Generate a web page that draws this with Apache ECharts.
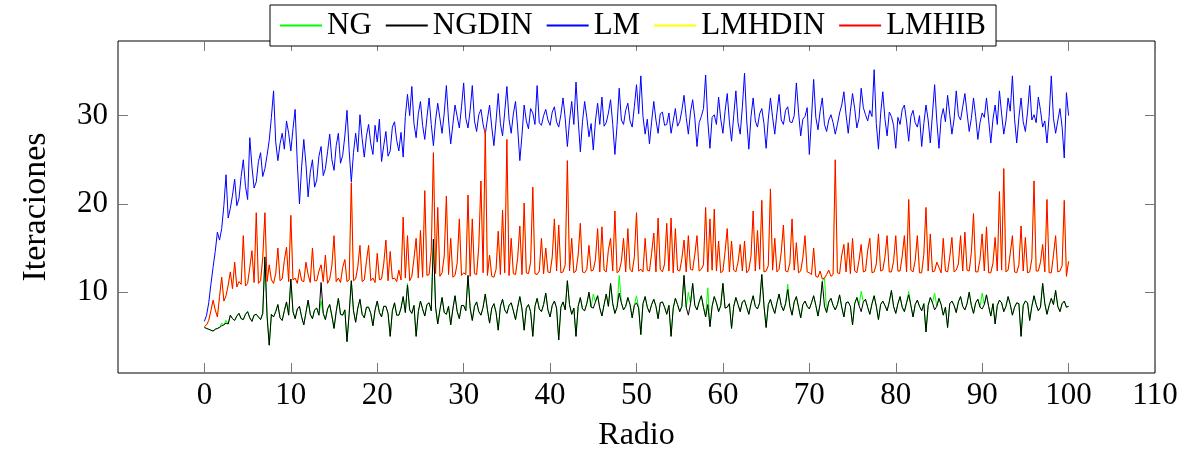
<!DOCTYPE html>
<html>
<head>
<meta charset="utf-8">
<script src="https://cdn.jsdelivr.net/npm/echarts@6/dist/echarts.min.js"></script>
<style>
  html, body { margin: 0; padding: 0; background: #fff; }
  #chart { width: 1185px; height: 457px; }
</style>
</head>
<body>
<div id="chart"></div>
<script>
// radio goes 0 .. 100 in steps of 0.25
const radio = [];
for (let i = 0; i <= 400; i++) radio.push(i / 4);

const xTicks = [0, 10, 20, 30, 40, 50, 60, 70, 80, 90, 100, 110];
const yTicks = [10, 20, 30];

// one row per 5 units of radio (20 values each)
const lm = [
  6.7, 7.4, 8.8, 10.9, 12.8, 14.6, 16.8, 15.9, 17.2, 19.8, 23.3, 18.4, 19.5, 21.0, 22.8, 19.8, 20.6, 23.1, 25.0, 22.0,
  20.5, 27.5, 24.2, 21.8, 22.5, 24.8, 25.8, 23.1, 24.0, 25.5, 27.2, 29.8, 32.8, 27.0, 24.9, 26.8, 28.0, 26.2, 29.4, 28.0,
  26.0, 28.5, 30.7, 24.6, 20.0, 24.2, 27.3, 24.5, 20.8, 23.6, 25.0, 21.9, 22.7, 25.4, 26.5, 23.2, 24.0, 25.9, 27.9, 25.0,
  23.8, 26.6, 28.0, 24.6, 25.5, 27.7, 30.6, 26.0, 22.5, 25.8, 28.0, 25.9, 30.1, 27.4, 25.3, 27.7, 29.0, 26.8, 25.6, 28.9,
  27.0, 29.6, 24.8, 26.6, 28.2, 25.4, 26.0, 28.7, 29.3, 27.2, 26.0, 28.1, 25.3, 29.9, 32.4, 30.0, 33.3, 29.1, 27.5, 30.2,
  31.6, 28.9, 27.3, 29.8, 32.0, 29.0, 26.6, 29.5, 31.4, 29.7, 28.0, 30.3, 33.4, 29.5, 26.8, 29.0, 31.2, 29.9, 28.6, 31.0,
  33.7, 29.7, 28.6, 30.6, 33.4, 29.4, 28.2, 30.1, 30.7, 29.0, 27.9, 29.6, 31.2, 28.7, 26.6, 29.4, 32.5, 29.1, 27.7, 30.4,
  33.3, 29.6, 28.0, 30.2, 31.6, 28.6, 24.9, 27.8, 31.2, 29.4, 28.5, 30.8, 30.3, 29.0, 33.4, 29.2, 28.9, 30.0, 30.7, 29.5,
  28.9, 30.4, 31.0, 29.3, 28.7, 30.1, 32.0, 29.7, 26.5, 29.4, 31.6, 29.0, 33.8, 29.6, 25.9, 29.3, 31.6, 29.8, 27.6, 29.1,
  26.1, 29.4, 31.4, 29.0, 32.1, 28.8, 29.2, 30.3, 31.8, 29.0, 25.6, 28.9, 33.1, 29.5, 29.0, 30.6, 31.4, 29.4, 28.7, 31.0,
  33.5, 30.2, 34.5, 29.9, 27.9, 29.6, 26.8, 29.3, 31.6, 29.5, 28.0, 30.2, 30.4, 28.9, 29.0, 30.3, 28.0, 29.4, 30.8, 28.8,
  29.3, 30.6, 32.3, 29.8, 27.9, 30.4, 31.8, 29.7, 26.5, 29.2, 29.9, 30.8, 34.6, 29.4, 26.3, 29.8, 30.1, 29.0, 32.1, 29.6,
  28.0, 30.5, 32.5, 29.3, 27.1, 30.0, 32.8, 29.2, 27.9, 31.0, 34.8, 29.5, 26.2, 29.9, 32.0, 29.4, 28.7, 30.2, 30.8, 29.1,
  26.3, 29.6, 32.0, 29.8, 27.9, 30.3, 32.4, 29.5, 29.0, 30.6, 31.0, 29.3, 29.2, 30.0, 33.7, 30.4, 27.7, 29.6, 29.9, 30.9,
  25.6, 29.7, 34.1, 29.8, 28.4, 30.5, 32.0, 29.0, 28.2, 29.5, 30.1, 29.2, 27.9, 29.0, 30.3, 31.2, 32.7, 30.1, 28.0, 30.5,
  32.5, 30.8, 28.6, 29.7, 33.1, 30.9, 30.1, 29.4, 30.6, 29.9, 35.2, 29.1, 26.2, 30.2, 32.7, 29.6, 27.7, 30.4, 29.9, 28.9,
  26.3, 29.8, 29.0, 30.7, 31.2, 29.4, 27.1, 29.9, 30.6, 29.2, 28.7, 30.0, 26.5, 29.1, 31.2, 29.5, 26.9, 30.2, 33.5, 29.4,
  26.3, 29.7, 30.8, 29.3, 32.3, 30.1, 27.9, 29.6, 32.8, 30.0, 29.5, 31.0, 32.5, 30.3, 28.2, 29.7, 32.0, 29.9, 27.3, 29.2,
  30.3, 29.8, 32.0, 29.5, 26.9, 29.6, 31.2, 29.0, 32.8, 30.2, 27.9, 29.4, 32.0, 30.5, 34.5, 29.6, 26.9, 29.8, 32.0, 29.3,
  28.2, 30.4, 33.4, 29.5, 30.1, 29.2, 32.1, 30.6, 28.7, 29.4, 26.9, 29.9, 34.5, 29.7, 28.0, 29.4, 30.8, 28.7, 25.2, 32.6,
  30.0
];

const lmhib = [
  6.1, 6.3, 6.8, 7.9, 9.1, 8.0, 7.2, 9.5, 11.7, 9.0, 9.6, 10.8, 12.3, 10.4, 13.4, 10.6, 11.2, 10.9, 16.4, 10.7,
  11.0, 12.8, 14.7, 11.1, 19.0, 11.0, 11.3, 13.9, 19.0, 11.2, 13.1, 11.4, 11.0, 12.1, 15.0, 11.3, 11.5, 13.6, 15.1, 11.2,
  18.7, 11.4, 11.6, 11.0, 12.6, 11.3, 11.2, 13.4, 12.0, 11.1, 15.0, 11.3, 11.3, 12.4, 13.1, 11.2, 14.2, 11.0, 11.5, 13.0,
  16.4, 11.2, 11.6, 11.1, 12.8, 13.7, 11.2, 11.4, 22.4, 11.3, 11.5, 12.9, 15.3, 11.2, 11.4, 13.5, 15.3, 11.3, 11.6, 11.1,
  14.4, 11.4, 11.5, 13.2, 15.9, 11.3, 14.6, 11.5, 11.6, 11.2, 12.5, 11.4, 18.5, 11.6, 16.4, 11.3, 11.8, 13.8, 16.1, 11.6,
  17.0, 11.7, 21.5, 11.9, 12.0, 14.6, 25.8, 12.1, 19.6, 11.8, 12.2, 14.1, 20.9, 12.0, 16.1, 11.7, 11.9, 13.3, 18.3, 11.9,
  12.2, 12.0, 21.0, 11.8, 18.3, 12.1, 12.0, 15.2, 22.6, 12.2, 28.4, 11.9, 14.2, 11.8, 11.7, 12.6, 16.9, 12.0, 19.3, 12.2,
  27.3, 11.9, 16.1, 12.1, 12.0, 13.9, 17.5, 12.0, 20.1, 12.2, 12.1, 13.4, 21.9, 12.1, 12.0, 12.4, 16.1, 12.1, 15.0, 12.3,
  12.2, 14.0, 18.3, 12.4, 17.6, 12.2, 12.3, 13.1, 24.9, 12.4, 16.1, 12.2, 12.4, 14.2, 17.8, 12.3, 12.2, 12.6, 15.3, 12.4,
  12.5, 13.7, 17.2, 12.3, 17.4, 12.5, 12.3, 14.8, 16.1, 12.4, 19.2, 12.2, 12.4, 13.5, 16.1, 12.3, 17.2, 12.6, 12.3, 14.0,
  19.0, 12.4, 12.6, 12.3, 16.1, 12.5, 12.4, 14.4, 16.7, 12.3, 18.4, 12.6, 12.3, 13.2, 17.8, 12.4, 18.4, 12.2, 17.2, 12.5,
  12.4, 13.8, 15.9, 12.3, 16.4, 12.6, 12.5, 14.3, 16.4, 12.4, 12.6, 13.1, 19.6, 12.3, 18.3, 12.5, 19.4, 12.4, 15.8, 12.2,
  12.4, 14.6, 17.2, 12.3, 15.8, 12.5, 12.3, 13.4, 15.4, 12.4, 15.8, 12.2, 12.5, 14.1, 19.2, 12.4, 17.0, 12.6, 20.4, 12.3,
  12.4, 13.0, 21.7, 12.5, 16.1, 12.3, 12.6, 14.5, 17.6, 12.4, 12.3, 13.3, 18.3, 12.5, 15.6, 12.2, 12.4, 13.9, 16.4, 12.3,
  12.2, 12.0, 15.0, 11.8, 11.7, 12.4, 11.5, 11.6, 12.0, 12.5, 11.8, 12.0, 25.0, 12.2, 12.1, 14.2, 15.4, 12.3, 15.6, 12.1,
  16.1, 12.4, 12.2, 13.6, 15.4, 12.3, 12.4, 14.7, 16.1, 12.2, 12.3, 13.2, 16.6, 12.4, 12.5, 14.0, 16.4, 12.3, 12.3, 13.5,
  16.4, 12.4, 12.4, 14.1, 16.4, 12.3, 20.5, 12.5, 12.3, 13.6, 16.4, 12.2, 12.2, 14.3, 19.6, 12.4, 16.6, 12.3, 12.4, 13.4,
  12.8, 12.2, 16.1, 12.4, 12.3, 14.0, 16.2, 12.3, 12.5, 13.2, 16.4, 12.4, 16.8, 12.5, 12.4, 14.5, 18.9, 12.3, 12.3, 13.7,
  16.6, 12.4, 17.4, 12.2, 12.2, 13.3, 16.2, 12.4, 21.4, 12.5, 24.0, 12.3, 12.5, 14.4, 16.4, 12.3, 12.2, 13.1, 17.5, 12.4,
  16.2, 12.2, 12.3, 13.8, 22.6, 12.4, 12.4, 13.4, 15.4, 12.3, 20.5, 12.2, 12.2, 14.2, 16.4, 12.3, 12.4, 13.0, 20.4, 11.8,
  13.5
];

// LMHDIN lies under LMHIB over the whole range in the picture
const lmhdin = lmhib.slice();

const ngdin = [
  6.0, 5.9, 5.8, 5.7, 5.6, 5.8, 5.9, 6.0, 6.2, 6.3, 6.5, 6.4, 7.4, 7.0, 6.8, 7.3, 7.6, 7.0, 6.9, 7.5,
  7.8, 7.1, 6.7, 7.4, 7.5, 7.2, 6.9, 7.6, 14.0, 7.3, 4.0, 7.5, 7.2, 7.8, 8.6, 7.1, 6.8, 7.9, 8.9, 7.4,
  11.5, 7.8, 7.0, 8.1, 8.4, 7.2, 6.3, 7.7, 9.1, 7.5, 7.0, 8.0, 8.2, 7.4, 11.1, 7.6, 6.9, 8.1, 8.6, 7.3,
  5.9, 7.8, 9.3, 7.5, 7.4, 8.0, 4.4, 7.6, 11.3, 7.9, 6.6, 8.2, 9.2, 7.5, 7.1, 8.3, 8.3, 7.6, 6.2, 8.0,
  9.0, 7.7, 7.2, 8.4, 8.4, 7.6, 5.0, 7.9, 8.8, 7.4, 7.4, 8.2, 9.5, 7.7, 10.8, 8.0, 7.6, 8.5, 5.0, 7.8,
  9.0, 8.1, 7.3, 8.6, 8.8, 7.9, 16.0, 8.3, 6.4, 8.0, 9.4, 7.7, 7.5, 8.4, 6.3, 8.1, 9.6, 7.8, 7.0, 8.5,
  8.5, 7.9, 11.9, 8.2, 6.8, 8.4, 8.9, 7.8, 7.4, 8.3, 9.8, 8.0, 6.5, 8.2, 8.7, 7.7, 5.7, 8.4, 9.2, 8.0,
  7.6, 8.5, 8.8, 7.9, 6.9, 8.3, 9.5, 8.1, 5.7, 8.2, 8.6, 7.8, 5.0, 8.4, 9.3, 8.1, 7.8, 8.6, 9.9, 8.0,
  7.2, 8.5, 9.0, 8.2, 4.6, 8.3, 8.9, 8.0, 11.3, 8.6, 7.5, 8.2, 5.0, 8.4, 9.4, 8.1, 7.9, 8.7, 10.0, 8.3,
  8.2, 8.9, 9.6, 8.2, 7.3, 8.6, 9.8, 8.4, 11.0, 8.7, 7.6, 8.3, 9.9, 8.8, 8.0, 8.4, 9.4, 8.6, 7.1, 8.5,
  8.8, 8.2, 5.2, 8.7, 9.5, 8.3, 7.7, 8.6, 9.2, 8.4, 7.0, 8.8, 8.9, 8.3, 7.5, 8.5, 5.0, 8.2, 9.3, 8.6,
  7.8, 8.4, 11.9, 8.3, 7.4, 8.7, 11.0, 8.5, 8.0, 8.9, 9.6, 8.3, 7.2, 8.6, 6.1, 8.4, 9.5, 8.8, 7.8, 8.5,
  11.0, 8.2, 8.3, 8.7, 5.9, 8.4, 9.4, 8.6, 7.8, 8.9, 9.1, 8.3, 7.5, 8.7, 9.6, 8.4, 8.1, 8.8, 12.0, 8.5,
  6.0, 8.6, 9.2, 8.3, 7.6, 8.8, 9.8, 8.5, 7.9, 8.7, 10.3, 8.4, 7.4, 8.9, 9.5, 8.3, 7.1, 8.6, 9.0, 8.4,
  8.1, 8.8, 9.6, 8.5, 7.3, 8.7, 11.2, 8.4, 7.7, 8.9, 9.3, 8.5, 8.0, 8.6, 9.7, 8.3, 7.2, 8.8, 8.9, 8.4,
  6.3, 8.7, 9.4, 8.5, 7.8, 8.9, 9.2, 8.3, 7.5, 8.7, 9.6, 8.4, 6.9, 8.6, 9.0, 8.5, 7.9, 8.9, 10.2, 8.4,
  7.6, 8.7, 9.5, 8.3, 7.8, 8.8, 9.7, 8.5, 7.2, 8.6, 9.1, 8.4, 7.9, 8.7, 5.5, 8.5, 9.4, 8.8, 8.0, 8.4,
  9.3, 8.6, 7.4, 8.3, 6.0, 8.7, 9.0, 8.5, 7.7, 8.9, 9.5, 8.4, 8.0, 8.7, 10.0, 8.5, 7.6, 8.8, 9.2, 8.3,
  8.1, 8.6, 9.7, 8.4, 7.3, 8.7, 6.4, 8.5, 9.1, 8.8, 7.8, 8.4, 9.5, 8.6, 7.4, 8.3, 8.8, 8.7, 5.0, 8.5,
  9.0, 8.8, 6.8, 8.4, 9.6, 8.6, 7.9, 8.3, 11.0, 8.7, 7.5, 8.5, 9.3, 8.6, 10.2, 8.4, 7.8, 8.7, 9.0, 8.3,
  8.4
];

// NG follows NGDIN except where the green line shows above it: [radio, value]
const ngPeaks = [
  [2.0, 6.5], [2.5, 6.8], [13.5, 9.0], [23.5, 11.0], [45.0, 9.8], [48.0, 11.9], [50.0, 9.6],
  [56.0, 10.0], [58.25, 10.5], [67.5, 10.9], [71.75, 11.7], [76.0, 10.1],
  [81.5, 10.1], [84.5, 9.9], [90.0, 9.9]
];
const ng = ngdin.slice();
ngPeaks.forEach(p => { ng[radio.indexOf(p[0])] = p[1]; });

const font = "'Liberation Serif', 'DejaVu Serif', serif";
const FS = 31;

function pairs(vals) {
  return vals.map((v, i) => [radio[i], v]);
}

function line(name, color, vals) {
  return {
    name: name,
    type: "line",
    data: pairs(vals),
    symbol: "none",
    itemStyle: { color: color },
    lineStyle: { color: color, width: 1 },
    emphasis: { disabled: true }
  };
}

const chart = echarts.init(document.getElementById("chart"));

const tickStyle = { show: true, inside: true, length: 10, lineStyle: { color: "#777", width: 1 } };
const noLine = { show: false, onZero: false };

const names = ["NG", "NGDIN", "LM", "LMHDIN", "LMHIB"];
const colors = ["#00ff00", "#000000", "#0000ff", "#ffff00", "#ff0000"];

chart.setOption({
  animation: false,
  backgroundColor: "#fff",
  textStyle: { fontFamily: font },
  grid: { left: 118, right: 30, top: 41, bottom: 82, show: true, borderColor: "#000", borderWidth: 1 },
  legend: {
    top: 5,
    left: 270,
    itemWidth: 42,
    itemHeight: 2,
    itemGap: 14,
    padding: [5, 10, 5, 10],
    borderColor: "#000",
    borderWidth: 1,
    backgroundColor: "#fff",
    itemStyle: { borderWidth: 0 },
    textStyle: { fontFamily: font, fontSize: FS, color: "#000" },
    data: names.map((n, i) => ({ name: n, icon: "rect", itemStyle: { color: colors[i], borderWidth: 0 } }))
  },
  xAxis: [
    {
      type: "value",
      min: -10,
      max: 110,
      name: "Radio",
      nameLocation: "middle",
      nameGap: 47,
      nameTextStyle: { fontFamily: font, fontSize: FS + 1, color: "#000" },
      axisLine: noLine,
      splitLine: { show: false },
      axisTick: Object.assign({ customValues: xTicks }, tickStyle),
      axisLabel: { customValues: xTicks, fontFamily: font, fontSize: FS, color: "#000", margin: 7 }
    },
    {
      type: "value",
      position: "top",
      min: -10,
      max: 110,
      axisLine: noLine,
      splitLine: { show: false },
      axisTick: Object.assign({ customValues: xTicks }, tickStyle),
      axisLabel: { show: false }
    }
  ],
  yAxis: [
    {
      type: "value",
      min: 0.85,
      max: 38.45,
      name: "Iteraciones",
      nameLocation: "middle",
      nameGap: 65,
      nameTextStyle: { fontFamily: font, fontSize: FS + 3, color: "#000" },
      axisLine: noLine,
      splitLine: { show: false },
      axisTick: Object.assign({ customValues: yTicks }, tickStyle),
      axisLabel: { customValues: yTicks, fontFamily: font, fontSize: FS, color: "#000", margin: 10 }
    },
    {
      type: "value",
      position: "right",
      min: 0.85,
      max: 38.45,
      axisLine: noLine,
      splitLine: { show: false },
      axisTick: Object.assign({ customValues: yTicks }, tickStyle),
      axisLabel: { show: false }
    }
  ],
  series: names.map((n, i) => line(n, colors[i], [ng, ngdin, lm, lmhdin, lmhib][i]))
});
</script>
</body>
</html>
